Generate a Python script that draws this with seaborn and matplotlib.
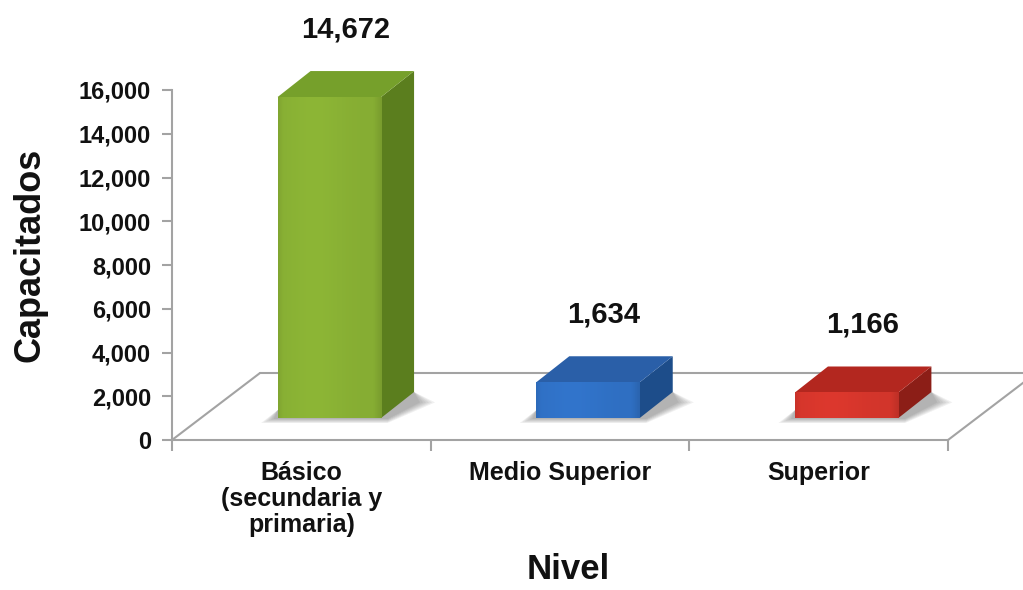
import numpy as np
import matplotlib
matplotlib.use("Agg")
import matplotlib.pyplot as plt
import matplotlib.colors as mcolors
import seaborn as sns
import pandas as pd
from matplotlib.patches import Polygon
from matplotlib.lines import Line2D

# ---- data ----
categories = ["Básico\n(secundaria y\nprimaria)", "Medio Superior", "Superior"]
values = [14672, 1634, 1166]
value_labels = ["14,672", "1,634", "1,166"]
y_ticks = [0, 2000, 4000, 6000, 8000, 10000, 12000, 14000, 16000]
y_tick_labels = ["0", "2,000", "4,000", "6,000", "8,000", "10,000", "12,000", "14,000", "16,000"]

# ---- style ----
colors_front = ["#86ad33", "#2f6fc2", "#d2352b"]
colors_side = ["#5b7e1e", "#1d4d8a", "#8c1e17"]
colors_top = ["#76a02b", "#2a5fa8", "#b3271f"]
floor_color = "#a3a3a3"

sns.set_theme(style="white")
plt.rcParams['font.family'] = ['Liberation Sans', 'DejaVu Sans']

W, H = 1023, 590
fig = plt.figure(figsize=(W / 100, H / 100), dpi=100)
fig.patch.set_facecolor("white")
ax = fig.add_axes([172 / W, 150 / H, 776 / W, 350 / H])

df = pd.DataFrame({"Nivel": categories, "Capacitados": values})
sns.barplot(data=df, x="Nivel", y="Capacitados", hue="Nivel",
            palette=colors_front, legend=False, width=0.40,
            saturation=1, ax=ax, zorder=3)
ax.set_xlim(-0.5, 2.5)
ax.set_ylim(0, 16000)

# pixel -> data conversions
px_x = 1.0 / (ax.transData.transform((1, 0))[0] - ax.transData.transform((0, 0))[0])
px_y = 1000.0 / (ax.transData.transform((0, 1000))[1] - ax.transData.transform((0, 0))[1])

front_dx, front_dy = 28 * px_x, 22 * px_y      # bar front plane inside floor
depth_dx, depth_dy = 33 * px_x, 26 * px_y      # bar depth
floor_dx, floor_dy = 88 * px_x, 67 * px_y      # floor depth

# ---- floor ----
x_lo, x_hi = ax.get_xlim()
for seg in [((x_lo + floor_dx, x_hi + floor_dx), (floor_dy, floor_dy)),
            ((x_lo, x_lo + floor_dx), (0, floor_dy)),
            ((x_hi, x_hi + floor_dx), (0, floor_dy))]:
    ax.add_line(Line2D(seg[0], seg[1], color=floor_color, lw=1.5,
                       clip_on=False, zorder=1))

# ---- 3D bars ----
patches = sorted(ax.patches, key=lambda p: p.get_x())
for i, p in enumerate(patches):
    x0 = p.get_x() + front_dx
    w = p.get_width()
    h = p.get_height()
    y0 = front_dy
    p.set_x(x0)
    p.set_y(y0)
    p.set_edgecolor("none")
    p.set_clip_on(False)
    top = y0 + h
    # soft shadow on the floor
    for k in range(6):
        sx = (4 + 2.5 * k) * px_x
        sy = (1 + 0.8 * k) * px_y
        ex = (6 + 3 * k) * px_x
        shadow = Polygon([(x0 - sx, y0 - sy), (x0 + w + depth_dx * 0.2, y0 - sy),
                          (x0 + w + depth_dx + ex, y0 + depth_dy * 0.6),
                          (x0 + w + depth_dx, y0 + depth_dy),
                          (x0, y0 + depth_dy * 0.3)],
                         closed=True, facecolor="#303030", alpha=0.07,
                         edgecolor="none", zorder=2, clip_on=False)
        ax.add_patch(shadow)
    # gradient on front face
    base = np.array(mcolors.to_rgb(colors_front[i]))
    t = np.linspace(0, 1, 200)
    shade = (1.0 + 0.05 * np.exp(-((t - 0.35) / 0.3) ** 2)
             - 0.10 * (t > 0.92) * (t - 0.92) / 0.08
             - 0.06 * (t < 0.05) * (0.05 - t) / 0.05)
    grad = np.clip(base[None, :] * shade[:, None], 0, 1)[None, :, :]
    im = ax.imshow(grad, extent=(x0, x0 + w, y0, top), aspect="auto",
                   zorder=3.5, interpolation="bilinear")
    im.set_clip_path(p)
    # side face
    side = Polygon([(x0 + w, y0), (x0 + w, top),
                    (x0 + w + depth_dx, top + depth_dy),
                    (x0 + w + depth_dx, y0 + depth_dy)],
                   closed=True, facecolor=colors_side[i], edgecolor="none",
                   zorder=3, clip_on=False)
    ax.add_patch(side)
    # top face
    topf = Polygon([(x0, top), (x0 + w, top),
                    (x0 + w + depth_dx, top + depth_dy),
                    (x0 + depth_dx, top + depth_dy)],
                   closed=True, facecolor=colors_top[i], edgecolor="none",
                   zorder=3, clip_on=False)
    ax.add_patch(topf)
    # value label
    ax.annotate(value_labels[i], xy=(x0 + w / 2, top), xytext=(16, 68),
                textcoords="offset pixels", ha="center", va="center",
                fontsize=21, fontweight="bold", color="#111111",
                annotation_clip=False)

ax.set_xlim(-0.5, 2.5)
ax.set_ylim(0, 16000)

# ---- axes styling ----
for s in ["top", "right"]:
    ax.spines[s].set_visible(False)
for s in ["left", "bottom"]:
    ax.spines[s].set_color(floor_color)
    ax.spines[s].set_linewidth(1.5)
    ax.spines[s].set_zorder(1)

ax.set_yticks(y_ticks)
ax.set_yticklabels(y_tick_labels, fontsize=17, fontweight="bold", color="#111111")
ax.tick_params(axis="y", which="major", left=True, length=7, width=1.5,
               color=floor_color, direction="out", pad=8)

ax.set_xticks([0, 1, 2])
ax.set_xticklabels(categories, fontsize=18, fontweight="bold", color="#111111",
                   linespacing=1.1)
ax.set_xticks([-0.5, 0.5, 1.5, 2.5], minor=True)
ax.tick_params(axis="x", which="major", bottom=True, length=0, pad=15)
ax.tick_params(axis="x", which="minor", bottom=True, length=8, width=1.5,
               color=floor_color, direction="out")

ax.set_ylabel("Capacitados", fontsize=26, fontweight="bold", color="#111111")
ax.yaxis.set_label_coords(-0.161, 0.529)
ax.set_xlabel("Nivel", fontsize=25, fontweight="bold", color="#111111")
ax.xaxis.set_label_coords(0.51, -0.322)

ax.grid(False)
ax.set_facecolor("none")

fig.savefig("out.png", dpi=100)
